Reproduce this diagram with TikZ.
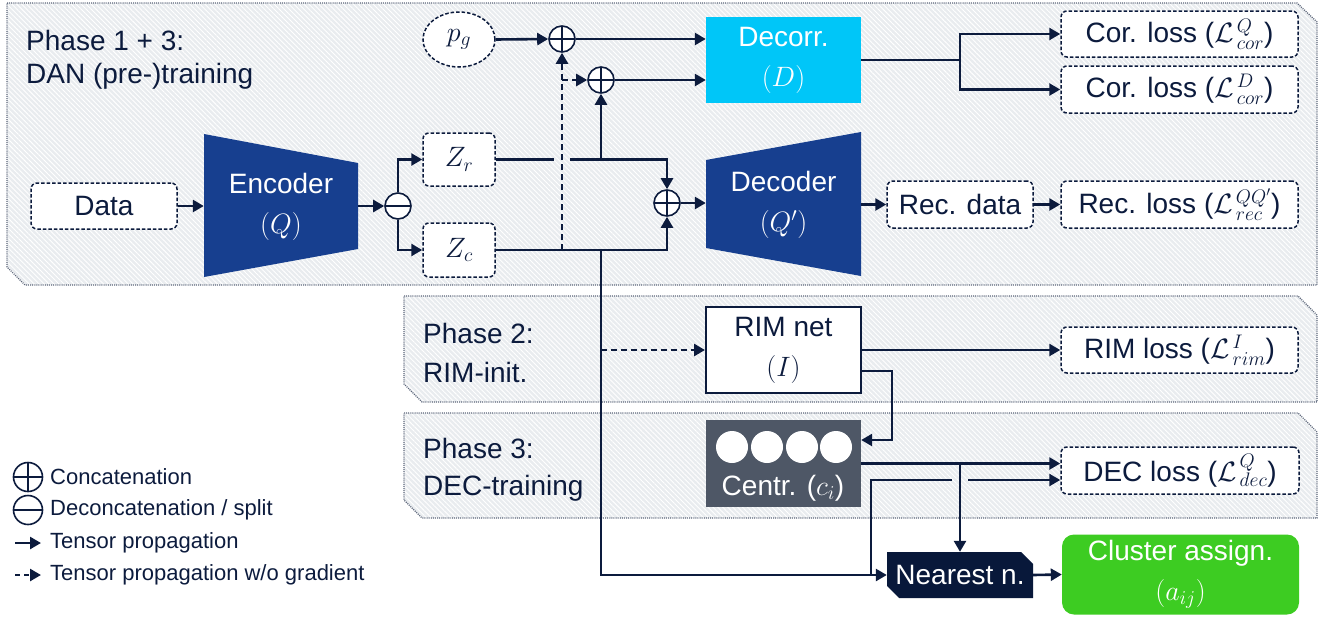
\RequirePackage{fix-cm}
\documentclass[tikz,border=0pt]{standalone}
\usepackage{fontspec}
\setmainfont{Liberation Sans}
\usetikzlibrary{arrows.meta,shapes.geometric,shapes.misc,patterns.meta,calc}
\definecolor{navy}{HTML}{0C1B3D}
\definecolor{encblue}{HTML}{173F8F}
\definecolor{cyanbox}{HTML}{00C6F8}
\definecolor{centgray}{HTML}{4E5766}
\definecolor{nndark}{HTML}{08183A}
\definecolor{greenbox}{HTML}{3DCC22}
\definecolor{panelfill}{HTML}{E9ECEF}
\definecolor{panelline}{HTML}{5A6478}
\newcommand\mainsz{\fontsize{28}{40}\selectfont}
\newcommand\legsz{\fontsize{22}{26}\selectfont}
\tikzset{
  ln/.style={line width=2.6pt, draw=navy},
  arr/.style={ln, -{Triangle[length=11pt,width=12pt]}},
  dsh/.style={dash pattern=on 6pt off 4pt},
  panel/.style={draw=panelline, line width=1.3pt, dash pattern=on 1pt off 1.1pt,
    preaction={fill=panelfill},
    preaction={pattern={Lines[angle=-45,distance=3.5pt,line width=0.9pt]}, pattern color=white}},
  dbox/.style={draw=navy, line width=1.5pt, dash pattern=on 3.5pt off 2pt, rounded corners=6pt,
    fill=white, text=navy, font=\mainsz, inner sep=0pt},
  txt/.style={text=navy, font=\mainsz, inner sep=0pt},
  legtxt/.style={text=navy, font=\legsz, inner sep=0pt, anchor=west},
  cat/.style={circle, draw=navy, line width=1.6pt, fill=white, minimum size=26pt, inner sep=0pt,
    path picture={\draw[navy,line width=1.6pt] (path picture bounding box.north) -- (path picture bounding box.south)
      (path picture bounding box.west) -- (path picture bounding box.east);}},
  splt/.style={circle, draw=navy, line width=1.6pt, fill=white, minimum size=26pt, inner sep=0pt,
    path picture={\draw[navy,line width=1.6pt] (path picture bounding box.west) -- (path picture bounding box.east);}},
  solidbox/.style={minimum width=155pt, minimum height=86pt, inner sep=0pt, font=\mainsz, align=center},
}
\begin{document}
\begin{tikzpicture}[x=1pt,y=-1pt]
\useasboundingbox (0,0) rectangle (1330,616);

% panels
\path[panel] (7,3) -- (1297,3) -- (1317,22) -- (1317,285) -- (25,285) -- (7,267) -- cycle;
\path[panel] (404,296) -- (1298,296) -- (1317,315) -- (1317,402) -- (422,402) -- (404,384) -- cycle;
\path[panel] (404,413) -- (1298,413) -- (1317,432) -- (1317,518) -- (422,518) -- (404,500) -- cycle;

% phase labels
\node[txt, anchor=base west] (ph1a) at (26,50) {Phase 1 + 3:};
\node[txt, anchor=base west] (ph1b) at (26,83) {DAN (pre-)training};
\node[txt, anchor=base west] (ph2a) at (423,343) {Phase 2:};
\node[txt, anchor=base west] (ph2b) at (423,382) {RIM-init.};
\node[txt, anchor=base west] (ph3a) at (423,458) {Phase 3:};
\node[txt, anchor=base west] (ph3b) at (423,495) {DEC-training};

% trapezoids
\fill[encblue] (204,134) -- (358,163) -- (358,249) -- (204,277) -- cycle;
\fill[encblue] (706,160) -- (861,132) -- (861,276) -- (706,248) -- cycle;

% nodes
\node[dbox, minimum width=146pt, minimum height=46pt] (data) at (104,206) {Data};
\node[solidbox, minimum width=154pt, minimum height=143pt, text=white] (enc) at (281,207) {Encoder\\$(Q)$};
\node[splt] (split) at (398,206) {};
\node[dbox, minimum width=72pt, minimum height=53pt] (zr) at (459,159.5) {$Z_r$};
\node[dbox, minimum width=72pt, minimum height=54pt] (zc) at (459,250) {$Z_c$};
\node[draw=navy, line width=1.5pt, dash pattern=on 3.5pt off 2pt, ellipse, fill=white, text=navy,
      minimum width=72pt, minimum height=55pt, inner sep=0pt, font=\mainsz] (pg) at (459,39.5) {$p_g$};
\node[cat] (c1) at (562,39) {};
\node[cat] (c2) at (601,80) {};
\node[cat] (c3) at (667,203) {};
\node[solidbox, fill=cyanbox, text=white] (dcr) at (783.5,60) {Decorr.\\$(D)$};
\node[solidbox, minimum height=144pt, text=white] (dec) at (783.5,205) {Decoder\\$(Q')$};
\node[dbox, minimum width=237pt, minimum height=46pt] (cl1) at (1179.5,34) {Cor. loss ($\mathcal{L}^{\,Q}_{\,cor}$)};
\node[dbox, minimum width=237pt, minimum height=47pt] (cl2) at (1179.5,89.5) {Cor. loss ($\mathcal{L}^{\,D}_{\,cor}$)};
\node[dbox, minimum width=146pt, minimum height=47pt] (rd) at (960,204.5) {Rec. data};
\node[dbox, minimum width=237pt, minimum height=47pt] (rl) at (1179.5,204.5) {Rec. loss ($\mathcal{L}^{\,QQ'}_{\,rec}$)};
\node[solidbox, draw=navy, line width=2pt, fill=white, text=navy] (rim) at (783.5,350) {RIM net\\$(I)$};
\node[dbox, minimum width=237pt, minimum height=46pt] (riml) at (1179.5,350) {RIM loss ($\mathcal{L}^{\,I}_{\,rim}$)};
\node[fill=centgray, minimum width=155pt, minimum height=87pt, inner sep=0pt] (cen) at (783.5,463.5) {};
\foreach \cx in {732,767,802,836} \fill[white] (\cx,447) circle (16);
\node[txt, text=white] (centxt) at (783,488) {Centr. ($c_i$)};
\node[dbox, minimum width=238pt, minimum height=47pt] (decl) at (1180,470.5) {DEC loss ($\mathcal{L}^{\,Q}_{\,dec}$)};
\node[chamfered rectangle, chamfered rectangle corners={north east,south west},
      chamfered rectangle xsep=6pt, chamfered rectangle ysep=6pt,
      fill=nndark, text=white, font=\mainsz, minimum width=146pt, minimum height=46pt, inner sep=0pt] (nn) at (960,575) {Nearest n.};
\node[fill=greenbox, rounded corners=12pt, minimum width=237pt, minimum height=80pt, inner sep=0pt,
      text=white, font=\mainsz, align=center] (cla) at (1180.5,574.5) {Cluster assign.\\$(a_{ij})$};

% connectors, phase 1
\draw[arr] (data.east) -- (enc.west |- data.east);
\draw[arr] (enc.east |- split.west) -- (split.west);
\draw[arr] (split.north) |- (zr.west);
\draw[arr] (split.south) |- (zc.west);
\draw[arr] (pg.east) -- (c1.west);
\draw[arr] (c1.east) -- (c1.east -| dcr.west);
\draw[arr] (c2.east) -- (c2.east -| dcr.west);
\draw[ln] (zr.east) -- ($(c1 |- zr.east)+(-8,0)$);
\draw[arr] ($(c1 |- zr.east)+(8,0)$) -| (c3.north);
\draw[arr] (c2 |- zr.east) -- (c2.south);
\draw[arr] (zc.east) -| (c3.south);
\draw[arr, dsh] (c1 |- zc.east) -- (c1.south);
\draw[arr, dsh] (c1 |- c2) -- (c2.west);
\draw[arr] (c3.east) -- (c3.east -| dec.west);
\coordinate (jc) at (rd.north |- dcr.east);
\draw[ln] (dcr.east) -- (jc);
\draw[arr] (jc) |- (cl1.west);
\draw[arr] (jc) |- (cl2.west);
\draw[arr] (dec.east |- rd.west) -- (rd.west);
\draw[arr] (rd.east) -- (rl.west);

% phase 2 / 3
\draw[arr] (c2 |- zc.east) |- (nn.west);
\draw[arr, dsh] (c2 |- rim.west) -- (rim.west);
\draw[arr] (rim.east) -- (riml.west);
\draw[arr] ([yshift=-21pt]rim.east) -- ++(30,0) |- ([yshift=23.5pt]cen.east);
\draw[arr] (cen.east) -- (cen.east -| decl.west);
\draw[arr] (nn.north |- cen.east) -- (nn.north);
\coordinate (j2) at ([xshift=-16pt]nn.west);
\coordinate (dlo) at ([yshift=-9.5pt]decl.west);
\draw[ln] (j2) |- ($(nn.north |- dlo)+(-8,0)$);
\draw[arr] ($(nn.north |- dlo)+(8,0)$) -- (dlo);
\draw[arr] (nn.east) -- (cla.west);

% legend
\node[cat, minimum size=29pt] (lg1) at (28,477) {};
\node[legtxt] (lt1) at (50,477) {Concatenation};
\node[splt, minimum size=29pt] (lg2) at (28,510) {};
\node[legtxt] (lt2) at (50,510) {Deconcatenation / split};
\coordinate (la1) at (15,543);
\coordinate (lb1) at (41,543);
\draw[arr] (la1) -- (lb1);
\node[legtxt] (lt3) at (50,543) {Tensor propagation};
\coordinate (la2) at (15,575);
\coordinate (lb2) at (41,575);
\draw[arr, dash pattern=on 5pt off 4pt] (la2) -- (lb2);
\node[legtxt] (lt4) at (50,575) {Tensor propagation w/o gradient};
\end{tikzpicture}
\end{document}
